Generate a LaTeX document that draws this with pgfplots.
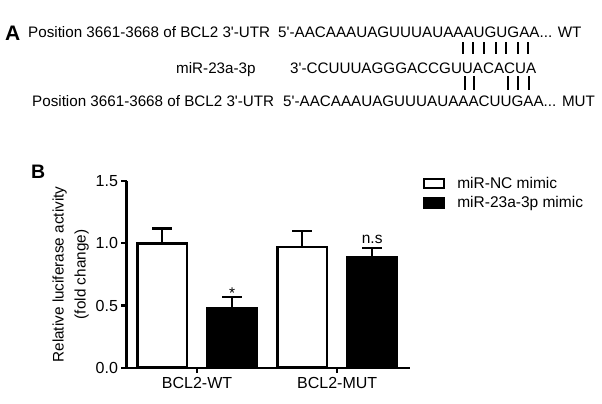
\documentclass[border=0pt]{standalone}
\usepackage{fontspec}
\setmainfont{Liberation Sans}
\usepackage{pgfplots}
\pgfplotsset{compat=1.18}

\newcommand{\q}{\textquotesingle}

\begin{document}
\begin{tikzpicture}[x=1bp,y=1bp]

% ---- panel B: luciferase assay ----
\begin{axis}[
  scale only axis,
  width=283.5bp, height=186.5bp,
  axis lines=left,
  axis line style={-, line width=2.2bp},
  xmin=-0.504, xmax=1.52,
  ymin=0, ymax=1.5,
  xtick={0,1},
  xticklabels={BCL2-WT,BCL2-MUT},
  ytick={0,0.5,1,1.5},
  yticklabel style={/pgf/number format/.cd, fixed, fixed zerofill, precision=1, assume math mode=true},
  tick align=outside,
  major tick length=5bp,
  tick style={line width=2.2bp, black},
  ticklabel style={font=\fontsize{16bp}{19bp}\selectfont},
  xticklabel style={yshift=-1bp},
  ylabel={Relative luciferase activity\\(fold change)},
  ylabel style={align=center, font=\fontsize{15.3bp}{22bp}\selectfont},
  ybar, bar width=0.354, bar shift=0pt,
  legend style={at={(1.045,1.035)}, anchor=north west, draw=none, fill=none,
    inner sep=0pt, font=\fontsize{15.5bp}{18bp}\selectfont, row sep=3bp,
    legend cell align=left},
  legend image code/.code={\draw[#1, line width=2.2bp] (0bp,-4.5bp) rectangle (20bp,4.5bp); \path (30bp,0bp);},
  error bars/y dir=plus,
  error bars/y explicit,
  error bars/error bar style={line width=2.2bp, black},
  error bars/error mark options={rotate=90, mark size=10bp, line width=2.2bp, black},
]
\addplot[draw=black, fill=white, line width=2.5bp] coordinates {
  (-0.25,1.00) +- (0,0.12)
  (0.75,0.97) +- (0,0.13)
};
\addlegendentry{miR-NC mimic}
\addplot[draw=black, fill=black, line width=2.5bp] coordinates {
  (0.25,0.48) +- (0,0.09)
  (1.25,0.89) +- (0,0.07)
};
\addlegendentry{miR-23a-3p mimic}

\node[anchor=base, inner sep=0pt, font=\fontsize{15.5bp}{18bp}\selectfont] at (axis cs:0.25,0.555) {*};
\node[anchor=base, inner sep=0pt, font=\fontsize{15.5bp}{18bp}\selectfont] at (axis cs:1.25,1.0) {n.s};
\coordinate (O) at (rel axis cs:0,0);
\end{axis}

% page frame and panel A, placed in pixel units from the axis corner
\pgfresetboundingbox
\begin{scope}[shift={(O)}]
\begin{scope}[shift={(-126.5,-35.3)}]
\useasboundingbox (0,0) rectangle (602,403);
\begin{scope}[every node/.style={inner sep=0pt, anchor=base west, font=\fontsize{15.2bp}{18bp}\selectfont}]
\node[font=\fontsize{21bp}{24bp}\selectfont\bfseries] at (5,363) {A};
\node at (28,365.3) {Position 3661-3668 of BCL2 3\q-UTR};
\node at (278,365.3) {5\q-AACAAAUAGUUUAUAAAUGUGAA... WT};
\node at (176,329.7) {miR-23a-3p};
\node at (290,329.7) {3\q-CCUUUAGGGACCGUUACACUA};
\node at (32,296.3) {Position 3661-3668 of BCL2 3\q-UTR};
\node at (283,296.3) {5\q-AACAAAUAGUUUAUAAACUUGAA... MUT};
\node[font=\fontsize{19.5bp}{22bp}\selectfont\bfseries] at (31,225) {B};
\end{scope}
% pairing lines
\foreach \x in {463,473,484,496,506,518,528}
  \draw[line width=1.8bp] (\x,361) -- (\x,349);
\foreach \x in {465,474,508,518,529}
  \draw[line width=1.8bp] (\x,327) -- (\x,313);
\end{scope}
\end{scope}
\end{tikzpicture}
\end{document}
